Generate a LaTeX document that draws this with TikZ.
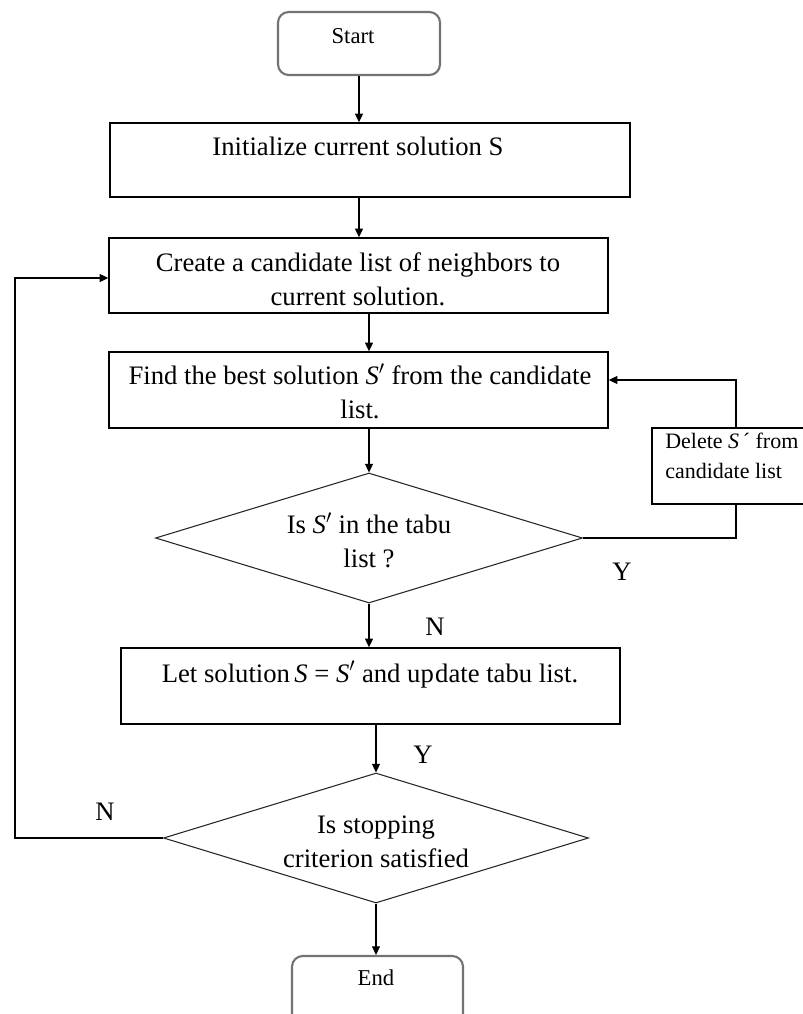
\documentclass[tikz,border=0pt]{standalone}
\usepackage{fontspec}
\setmainfont{Liberation Serif}
\usetikzlibrary{arrows.meta,shapes.geometric}

\newcommand\mainsize{\fontsize{20}{25}\selectfont}
\newcommand\smallsize{\fontsize{16.5}{22.5}\selectfont}

\begin{document}
\begin{tikzpicture}[x=0.75pt,y=-0.75pt,
  box/.style={draw=black, line width=1.1pt, inner sep=0pt},
  term/.style={draw=black!55, line width=1.6pt, rounded corners=8pt, inner sep=0pt},
  decision/.style={draw=black!85, diamond, line width=0.8pt, inner sep=0pt},
  arr/.style={-{Triangle[length=6.5pt,width=6pt]}, line width=0.9pt},
  plain/.style={line width=0.9pt},
  txt/.style={font=\mainsize, align=center, inner sep=0pt, anchor=base},
  smalltxt/.style={font=\smallsize, align=center, inner sep=0pt, anchor=base},
  lbl/.style={font=\mainsize, inner sep=0pt},
]
\path[use as bounding box] (0,0) rectangle (803,1014);
\clip (0,0) rectangle (803,1014);

% boxes and decisions
\node[term, minimum width={162*0.75pt}, minimum height={63*0.75pt}] (start) at (359,43.5) {};
\node[box, minimum width={520*0.75pt}, minimum height={74*0.75pt}] (init) at (370,160) {};
\node[box, minimum width={499*0.75pt}, minimum height={75*0.75pt}] (create) at (358.5,275.5) {};
\node[box, minimum width={499*0.75pt}, minimum height={76*0.75pt}] (find) at (358.5,390) {};
\node[decision, minimum width={427*0.75pt}, minimum height={130*0.75pt}] (dec1) at (369,538) {};
\node[box, minimum width={158*0.75pt}, minimum height={76*0.75pt}] (del) at (731,466) {};
\node[box, minimum width={499*0.75pt}, minimum height={76*0.75pt}] (let) at (370.5,686) {};
\node[decision, minimum width={425*0.75pt}, minimum height={130*0.75pt}] (dec2) at (376,838) {};
\node[term, minimum width={171*0.75pt}, minimum height={88*0.75pt}] (end) at (377.5,1000) {};

% texts
\node[smalltxt, font=\fontsize{17}{22}\selectfont] (startt) at (353,43) {Start};
\node[txt] (initt) at (358,155) {Initialize current solution S};
\node[txt] (createt) at (358,305) {Create a candidate list of neighbors to\\current solution.};
\node[txt] (findt) at (360,418) {Find the best solution \textit{S}$'$ from the candidate\\list.};
\node[txt] (dec1t) at (369,567) {Is \textit{S}$'$ in the tabu\\list ?};
\node[font=\smallsize, align=left, inner sep=0pt, anchor=base west] (delt) at (665,478) {Delete \textit{S}\,´ from\\candidate list};
\node[txt] (lett) at (370,682) {Let solution\,\textit{S} = \textit{S}$'$ and up\kern1pt date tabu list.};
\node[txt] (dec2t) at (376,867) {Is stopping\\criterion satisfied};
\node[smalltxt, font=\fontsize{17}{22}\selectfont] (endt) at (376,985) {End};

% branch labels
\node[lbl] (y1) at (622,572) {Y};
\node[lbl] (n1) at (435,627) {N};
\node[lbl] (y2) at (423,755) {Y};
\node[lbl] (n2) at (105,812) {N};

% routing points
\coordinate (dx) at (736,0);
\coordinate (yf) at (0,380);
\coordinate (lx) at (15,0);
\coordinate (yc) at (0,278);

% connectors
\draw[arr] (start.south) -- (start.south |- init.north);
\draw[arr] (start.south |- init.south) -- (start.south |- create.north);
\draw[arr] (dec1.north |- create.south) -- (dec1.north |- find.north);
\draw[arr] (dec1.north |- find.south) -- (dec1.north);
\draw[plain] (dec1.east) -| (dx |- del.south);
\draw[arr] (dx |- del.north) -- (dx |- yf) -- (find.east |- yf);
\draw[arr] (dec1.south) -- (dec1.south |- let.north);
\draw[arr] (dec2.north |- let.south) -- (dec2.north);
\draw[arr] (dec2.south) -- (dec2.south |- end.north);
\draw[arr] (dec2.west) -| (lx |- yc) -- (create.west |- yc);
\end{tikzpicture}
\end{document}
